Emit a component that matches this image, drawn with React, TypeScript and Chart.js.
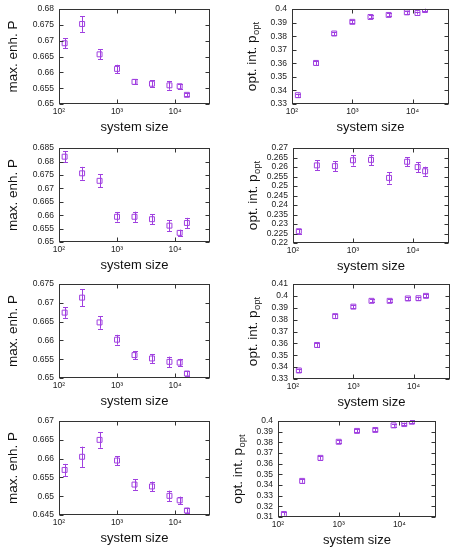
import React, { useEffect, useRef } from 'react';
import { Chart, registerables } from 'chart.js';

Chart.register(...registerables);

// ---------- data ----------
const SYSTEM_SIZES = [125, 250, 500, 1000, 2000, 4000, 8000, 12000, 16000];
const X_TICKS = [100, 1000, 10000];
const X_TICK_LABELS = ['10²', '10³', '10⁴'];
const X_MIN = 100;
const X_MAX = 40000;
const X_TITLE = 'system size';
const Y_TITLE_ENH = 'max. enh. P';
const Y_TITLE_OPT = 'opt. int. p';
const Y_TITLE_OPT_SUB = 'opt';

const MAX_ENH_1 = [0.6692, 0.6753, 0.6657, 0.6611, 0.657, 0.6564, 0.6559, 0.6556, 0.6529];
const MAX_ENH_ERR_1 = [0.0016, 0.0025, 0.0016, 0.0013, 0.0008, 0.0011, 0.0014, 0.0008, 0.0005];
const OPT_INT_1 = [0.3365, 0.3603, 0.382, 0.3906, 0.3942, 0.3957, 0.3976, 0.3971, 0.3993];
const OPT_INT_ERR_1 = [0.0012, 0.0015, 0.0012, 0.0012, 0.0011, 0.0011, 0.0012, 0.0011, 0.001];

const MAX_ENH_2 = [0.6818, 0.6756, 0.6728, 0.6594, 0.6594, 0.6585, 0.6561, 0.6534, 0.6571];
const MAX_ENH_ERR_2 = [0.002, 0.0024, 0.0024, 0.0018, 0.0019, 0.0018, 0.002, 0.0012, 0.0019];
const OPT_INT_2 = [0.2262, 0.2609, 0.2605, 0.2636, 0.2638, 0.2543, 0.2628, 0.26, 0.2578];
const OPT_INT_ERR_2 = [0.0012, 0.0027, 0.0026, 0.0028, 0.0028, 0.003, 0.0023, 0.0026, 0.0024];

const MAX_ENH_3 = [0.6674, 0.6714, 0.6648, 0.6602, 0.6561, 0.6552, 0.6543, 0.6541, 0.6512];
const MAX_ENH_ERR_3 = [0.0014, 0.0023, 0.0017, 0.0013, 0.0011, 0.0012, 0.0014, 0.001, 0.0006];
const OPT_INT_3 = [0.3372, 0.3587, 0.383, 0.391, 0.3959, 0.3959, 0.3979, 0.3981, 0.4001];
const OPT_INT_ERR_3 = [0.0015, 0.0017, 0.0015, 0.0015, 0.0013, 0.0013, 0.0013, 0.0013, 0.0012];

const MAX_ENH_4 = [0.657, 0.6605, 0.665, 0.6595, 0.6531, 0.6526, 0.6501, 0.6489, 0.6462];
const MAX_ENH_ERR_4 = [0.0016, 0.0027, 0.0021, 0.0012, 0.0014, 0.0013, 0.0014, 0.001, 0.0007];
const OPT_INT_4 = [0.3128, 0.3439, 0.3655, 0.3806, 0.3908, 0.3917, 0.396, 0.3972, 0.3994];
const OPT_INT_ERR_4 = [0.0015, 0.0018, 0.0018, 0.0015, 0.0014, 0.0014, 0.0014, 0.0013, 0.0012];

// ---------- style ----------
const PURPLE = '#a040e0';
const FONT = '"Liberation Sans", Arial, Helvetica, sans-serif';
const TICK_SIZE = 8.5;
const X_TITLE_SIZE = 13;
const Y_TITLE_SIZE = 13.5;
const PAD_TOP = 8;
const X_AXIS_H = 33;

type PanelCfg = {
  values: number[];
  errors: number[];
  yMin: number;
  yMax: number;
  yStep: number;
  opt: boolean;
  col: number;
  plot: { l: number; t: number; r: number; b: number };
  yTitleX: number;
};

const PANELS: PanelCfg[] = [
  { values: MAX_ENH_1, errors: MAX_ENH_ERR_1, yMin: 0.65, yMax: 0.68, yStep: 0.005, opt: false, col: 0, plot: { l: 59, t: 7, r: 210, b: 104 }, yTitleX: 13.5 },
  { values: OPT_INT_1, errors: OPT_INT_ERR_1, yMin: 0.33, yMax: 0.4, yStep: 0.01, opt: true, col: 1, plot: { l: 292, t: 7, r: 449, b: 104 }, yTitleX: 252.5 },
  { values: MAX_ENH_2, errors: MAX_ENH_ERR_2, yMin: 0.65, yMax: 0.685, yStep: 0.005, opt: false, col: 0, plot: { l: 59, t: 146, r: 210, b: 242 }, yTitleX: 13.5 },
  { values: OPT_INT_2, errors: OPT_INT_ERR_2, yMin: 0.22, yMax: 0.27, yStep: 0.005, opt: true, col: 1, plot: { l: 293, t: 146, r: 449, b: 243 }, yTitleX: 253 },
  { values: MAX_ENH_3, errors: MAX_ENH_ERR_3, yMin: 0.65, yMax: 0.675, yStep: 0.005, opt: false, col: 0, plot: { l: 59, t: 282, r: 210, b: 378 }, yTitleX: 13 },
  { values: OPT_INT_3, errors: OPT_INT_ERR_3, yMin: 0.33, yMax: 0.41, yStep: 0.01, opt: true, col: 1, plot: { l: 293, t: 282, r: 450, b: 379 }, yTitleX: 253 },
  { values: MAX_ENH_4, errors: MAX_ENH_ERR_4, yMin: 0.645, yMax: 0.67, yStep: 0.005, opt: false, col: 0, plot: { l: 59, t: 419, r: 210, b: 515 }, yTitleX: 13 },
  { values: OPT_INT_4, errors: OPT_INT_ERR_4, yMin: 0.31, yMax: 0.4, yStep: 0.01, opt: true, col: 1, plot: { l: 278, t: 419, r: 436, b: 517 }, yTitleX: 238 },
];

function fmtY(v: number | string) {
  return String(Number(Number(v).toFixed(4)));
}

function Panel({ cfg }: { cfg: PanelCfg }) {
  const ref = useRef<HTMLCanvasElement>(null);
  const colLeft = cfg.col === 0 ? 0 : 229;
  const colRight = cfg.col === 0 ? 229 : 459;
  const left = colLeft;
  const top = cfg.plot.t - PAD_TOP;
  const width = colRight - colLeft;
  const height = cfg.plot.b + X_AXIS_H - top;

  useEffect(() => {
    const canvas = ref.current;
    if (!canvas) return;

    const gnuPlugin = {
      id: 'gnuFrame',
      beforeDatasetsDraw(chart: any) {
        const ctx = chart.ctx;
        const xs = chart.scales.x;
        const ys = chart.scales.y;
        ctx.save();
        ctx.strokeStyle = PURPLE;
        ctx.lineWidth = 1;
        cfg.values.forEach((v, i) => {
          const e = cfg.errors[i];
          const x = Math.round(xs.getPixelForValue(SYSTEM_SIZES[i])) + 0.5;
          const y1 = ys.getPixelForValue(v + e);
          const y2 = ys.getPixelForValue(v - e);
          ctx.beginPath();
          ctx.moveTo(x, y1);
          ctx.lineTo(x, y2);
          ctx.moveTo(x - 2.5, Math.round(y1) + 0.5);
          ctx.lineTo(x + 2.5, Math.round(y1) + 0.5);
          ctx.moveTo(x - 2.5, Math.round(y2) + 0.5);
          ctx.lineTo(x + 2.5, Math.round(y2) + 0.5);
          ctx.stroke();
        });
        ctx.restore();
      },
      afterDraw(chart: any) {
        const ctx = chart.ctx;
        const a = chart.chartArea;
        const xs = chart.scales.x;
        const ys = chart.scales.y;
        ctx.save();
        ctx.strokeStyle = '#333';
        ctx.lineWidth = 1;
        const L = Math.round(a.left) + 0.5;
        const R = Math.round(a.right) - 0.5;
        const T = Math.round(a.top) + 0.5;
        const B = Math.round(a.bottom) - 0.5;
        ctx.strokeRect(L, T, R - L, B - T);
        const tl = 4;
        ctx.beginPath();
        ys.ticks.forEach((t: any) => {
          const y = Math.round(ys.getPixelForValue(t.value)) + 0.5;
          ctx.moveTo(L, y);
          ctx.lineTo(L + tl, y);
          ctx.moveTo(R, y);
          ctx.lineTo(R - tl, y);
        });
        xs.ticks.forEach((t: any) => {
          const x = Math.round(xs.getPixelForValue(t.value)) + 0.5;
          ctx.moveTo(x, B);
          ctx.lineTo(x, B - tl);
          ctx.moveTo(x, T);
          ctx.lineTo(x, T + tl);
        });
        ctx.stroke();

        // y-axis title (rotated), with subscript for p_opt
        const cx = cfg.yTitleX - colLeft;
        const cy = (a.top + a.bottom) / 2;
        ctx.translate(cx, cy);
        ctx.rotate(-Math.PI / 2);
        ctx.fillStyle = '#111';
        ctx.textBaseline = 'middle';
        ctx.textAlign = 'left';
        const mainText = cfg.opt ? Y_TITLE_OPT : Y_TITLE_ENH;
        const mainFont = `${Y_TITLE_SIZE}px ${FONT}`;
        const subFont = `${Y_TITLE_SIZE * 0.7}px ${FONT}`;
        ctx.font = mainFont;
        const w1 = ctx.measureText(mainText).width;
        let w2 = 0;
        if (cfg.opt) {
          ctx.font = subFont;
          w2 = ctx.measureText(Y_TITLE_OPT_SUB).width + 0.5;
        }
        const startX = -(w1 + w2) / 2;
        ctx.font = mainFont;
        ctx.fillText(mainText, startX, 0);
        if (cfg.opt) {
          ctx.font = subFont;
          ctx.fillText(Y_TITLE_OPT_SUB, startX + w1 + 0.5, 4);
        }
        ctx.restore();
      },
    };

    const chart = new Chart(canvas, {
      type: 'scatter',
      data: {
        datasets: [
          {
            data: cfg.values.map((v, i) => ({ x: SYSTEM_SIZES[i], y: v })),
            pointStyle: 'rect',
            pointRadius: 3.5,
            pointBorderWidth: 1,
            borderColor: PURPLE,
            backgroundColor: 'rgba(0,0,0,0)',
            pointBackgroundColor: 'rgba(0,0,0,0)',
            pointBorderColor: PURPLE,
            showLine: false,
          },
        ],
      },
      options: {
        responsive: false,
        maintainAspectRatio: false,
        animation: false,
        events: [],
        layout: { padding: { top: PAD_TOP, right: colRight - cfg.plot.r, left: 0, bottom: 0 } },
        plugins: { legend: { display: false }, tooltip: { enabled: false } },
        scales: {
          x: {
            type: 'logarithmic',
            min: X_MIN,
            max: X_MAX,
            afterBuildTicks: (s: any) => {
              s.ticks = X_TICKS.map((v) => ({ value: v }));
            },
            afterFit: (s: any) => {
              s.height = X_AXIS_H;
            },
            ticks: {
              autoSkip: false,
              maxRotation: 0,
              padding: 3,
              color: '#222',
              font: { family: FONT, size: TICK_SIZE },
              callback: (v: any) => {
                const i = X_TICKS.indexOf(Number(v));
                return i >= 0 ? X_TICK_LABELS[i] : '';
              },
            },
            grid: { display: false, drawTicks: false },
            border: { display: false },
            title: {
              display: true,
              text: X_TITLE,
              color: '#111',
              font: { family: FONT, size: X_TITLE_SIZE },
              padding: { top: 0, bottom: 1.7 },
            },
          },
          y: {
            type: 'linear',
            min: cfg.yMin,
            max: cfg.yMax,
            afterFit: (s: any) => {
              s.width = cfg.plot.l - colLeft;
            },
            ticks: {
              stepSize: cfg.yStep,
              autoSkip: false,
              padding: 5,
              color: '#222',
              font: { family: FONT, size: TICK_SIZE },
              callback: (v: any) => fmtY(v),
            },
            grid: { display: false, drawTicks: false },
            border: { display: false },
            title: { display: false },
          },
        },
      },
      plugins: [gnuPlugin],
    } as any);

    return () => chart.destroy();
  }, []);

  return (
    <canvas
      ref={ref}
      width={width}
      height={height}
      style={{ position: 'absolute', left, top, width, height }}
    />
  );
}

export default function App() {
  return (
    <div
      style={{
        position: 'absolute',
        left: 0,
        top: 0,
        width: 459,
        height: 550,
        overflow: 'hidden',
        background: '#fff',
      }}
    >
      {PANELS.map((p, i) => (
        <Panel key={i} cfg={p} />
      ))}
    </div>
  );
}
